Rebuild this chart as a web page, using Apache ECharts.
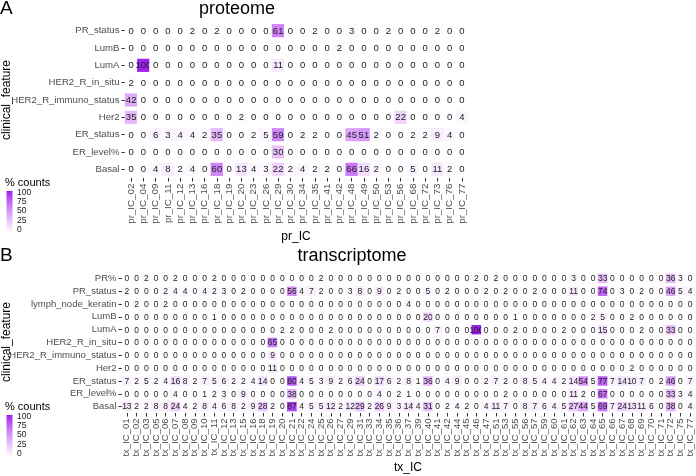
<!DOCTYPE html>
<html><head><meta charset="utf-8">
<script src="https://cdn.jsdelivr.net/npm/echarts@6/dist/echarts.min.js"></script>
<style>html,body{margin:0;padding:0;background:#fff}#c{width:696px;height:476px}</style>
</head><body><div id="c"></div>
<script>
const FONT = '"Liberation Sans", Arial, sans-serif';

// ---------- A: proteome ----------
const prIC = ['pr_IC_02','pr_IC_04','pr_IC_09','pr_IC_11','pr_IC_12','pr_IC_13','pr_IC_16','pr_IC_18','pr_IC_19','pr_IC_20','pr_IC_23','pr_IC_26','pr_IC_29','pr_IC_30','pr_IC_34','pr_IC_35','pr_IC_41','pr_IC_42','pr_IC_48','pr_IC_49','pr_IC_50','pr_IC_53','pr_IC_56','pr_IC_68','pr_IC_72','pr_IC_73','pr_IC_76','pr_IC_77'];
const prFeatures = ['PR_status','LumB','LumA','HER2_R_in_situ','HER2_R_immuno_status','Her2','ER_status','ER_level%','Basal'];
const pr_PR_status    = [0,0,0,0,0,2,0,2,0,0,0,0,61,0,0,2,0,0,3,0,0,2,0,0,0,2,0,0];
const pr_LumB         = [0,0,0,0,0,0,0,0,0,0,0,0,0,0,0,0,0,2,0,0,0,0,0,0,0,0,0,0];
const pr_LumA         = [0,100,0,0,0,0,0,0,0,0,0,0,11,0,0,0,0,0,0,0,0,0,0,0,0,0,0,0];
const pr_HER2_in_situ = [2,0,0,0,0,0,0,0,0,0,0,0,0,0,0,0,0,0,0,0,0,0,0,0,0,0,0,0];
const pr_HER2_immuno  = [42,0,0,0,0,0,0,0,0,0,0,0,0,0,0,0,0,0,0,0,0,0,0,0,0,0,0,0];
const pr_Her2         = [35,0,0,0,0,0,0,0,0,2,0,0,0,0,0,0,0,0,0,0,0,0,22,0,0,0,0,4];
const pr_ER_status    = [0,0,6,3,4,4,2,35,0,0,2,5,59,0,2,2,0,0,45,51,2,0,0,2,2,9,4,0];
const pr_ER_level     = [0,0,0,0,0,0,0,0,0,0,0,0,30,0,0,0,0,0,0,0,0,0,0,0,0,0,0,0];
const pr_Basal        = [0,0,4,8,2,4,0,60,0,13,4,3,22,2,4,2,2,0,66,16,2,0,0,5,0,11,2,0];
const prRows = [pr_PR_status,pr_LumB,pr_LumA,pr_HER2_in_situ,pr_HER2_immuno,pr_Her2,pr_ER_status,pr_ER_level,pr_Basal];

// ---------- B: transcriptome ----------
const txIC = ['tx_IC_01','tx_IC_02','tx_IC_03','tx_IC_05','tx_IC_06','tx_IC_07','tx_IC_08','tx_IC_09','tx_IC_10','tx_IC_11','tx_IC_12','tx_IC_13','tx_IC_15','tx_IC_16','tx_IC_18','tx_IC_19','tx_IC_20','tx_IC_21','tx_IC_22','tx_IC_24','tx_IC_25','tx_IC_26','tx_IC_27','tx_IC_29','tx_IC_31','tx_IC_33','tx_IC_34','tx_IC_35','tx_IC_36','tx_IC_37','tx_IC_39','tx_IC_40','tx_IC_41','tx_IC_42','tx_IC_44','tx_IC_45','tx_IC_46','tx_IC_47','tx_IC_51','tx_IC_53','tx_IC_55','tx_IC_56','tx_IC_57','tx_IC_59','tx_IC_60','tx_IC_61','tx_IC_62','tx_IC_63','tx_IC_64','tx_IC_65','tx_IC_66','tx_IC_67','tx_IC_68','tx_IC_69','tx_IC_70','tx_IC_71','tx_IC_72','tx_IC_75','tx_IC_77'];
const txFeatures = ['PR%','PR_status','lymph_node_keratin','LumB','LumA','HER2_R_in_situ','HER2_R_immuno_status','Her2','ER_status','ER_level%','Basal'];
const tx_PR_pct      = [0,0,2,0,0,2,0,0,0,2, 0,0,0,0,0,0,0,0,0,0, 2,0,0,0,0,0,0,0,0,0, 0,0,0,0,0,0,2,0,2,0, 0,0,0,0,0,0,3,0,0,33, 0,0,0,0,0,0,36,3,0];
const tx_PR_status   = [2,0,0,0,2,4,4,0,4,2, 3,0,2,0,0,0,0,56,4,7, 2,0,0,3,8,0,9,0,2,0, 0,5,0,2,0,0,0,2,0,2, 0,0,2,0,0,0,11,0,0,74, 0,3,0,2,0,0,46,5,4];
const tx_lymph       = [0,2,0,0,2,0,0,0,0,0, 0,0,0,0,0,0,0,0,0,0, 0,0,0,0,0,0,0,0,0,4, 0,0,0,0,0,0,0,0,0,0, 0,0,0,0,0,0,0,0,0,0, 0,0,0,0,0,0,0,0,0];
const tx_LumB        = [0,0,0,0,0,0,0,0,0,1, 0,0,0,0,0,0,0,0,0,0, 0,0,0,0,0,0,0,0,0,0, 0,20,0,0,0,0,0,0,0,0, 1,0,0,0,0,0,0,0,2,5, 0,0,2,0,0,0,0,0,0];
const tx_LumA        = [0,0,0,0,0,0,0,0,0,0, 0,0,0,0,0,0,2,2,0,0, 0,2,0,0,0,0,0,0,0,0, 0,0,7,0,0,0,100,0,0,0, 2,0,0,0,0,2,0,0,0,15, 0,0,0,2,0,0,33,0,0];
const tx_HER2_in_situ= [0,0,0,0,0,0,0,0,0,0, 0,0,0,0,0,65,0,0,0,0, 0,0,0,0,0,0,0,0,0,0, 0,0,0,0,0,0,0,0,0,0, 0,0,0,0,0,0,0,0,0,0, 0,0,0,0,0,0,0,0,0];
const tx_HER2_immuno = [0,0,0,0,0,0,0,0,0,0, 0,0,0,0,0,9,0,0,0,0, 0,0,0,0,0,0,0,0,0,0, 0,0,0,0,0,0,0,0,0,0, 0,0,0,0,0,0,0,0,0,0, 0,0,0,0,0,0,0,0,0];
const tx_Her2        = [0,0,0,0,0,0,0,0,0,0, 0,0,0,0,0,11,0,0,0,0, 0,0,0,0,0,0,0,0,0,0, 0,0,0,0,0,0,0,0,0,0, 0,0,0,0,0,0,0,0,0,0, 0,0,2,0,0,0,0,0,0];
const tx_ER_status   = [7,2,5,2,4,16,8,2,7,5, 6,2,2,4,14,0,0,80,4,5, 3,9,2,6,24,0,17,6,2,8, 1,36,0,4,9,0,0,2,7,2, 0,8,5,4,4,2,14,54,5,77, 7,14,10,7,0,2,46,0,7];
const tx_ER_level    = [0,0,0,0,0,4,0,0,1,2, 3,0,9,0,0,0,0,38,0,0, 0,0,0,0,0,0,4,0,2,1, 0,0,0,0,0,0,0,0,0,2, 0,0,0,0,0,0,11,2,0,67, 0,0,0,0,0,0,33,3,4];
const tx_Basal       = [13,2,2,8,8,24,4,2,8,4, 6,8,2,9,28,2,0,87,4,5, 5,12,2,12,29,2,26,9,3,14, 4,31,0,2,4,2,0,4,11,7, 0,8,7,6,4,5,27,44,5,69, 7,24,13,11,6,0,38,0,4];
const txRows = [tx_PR_pct,tx_PR_status,tx_lymph,tx_LumB,tx_LumA,tx_HER2_in_situ,tx_HER2_immuno,tx_Her2,tx_ER_status,tx_ER_level,tx_Basal];

const legendTicks = ['100','75','50','25','0'];
const colorStops = ['#ffffff','#edcdfd','#d99af9','#be66f5','#a020f0'];

function cells(rows){
  const out = [];
  rows.forEach((r, yi) => r.forEach((v, xi) => out.push([xi, yi, v])));
  return out;
}

function tileRenderer(fontSize, hRatio){
  return function(params, api){
    const c = api.coord([api.value(0), api.value(1)]);
    const s = api.size([1, 1]);
    const w = s[0] + 0.3, h = s[1] * hRatio;
    return {type:'group', children:[
      {type:'rect', shape:{x:c[0]-w/2, y:c[1]-h/2, width:w, height:h}, style:{fill: api.visual('color')}},
      {type:'text', style:{text:String(api.value(2)), x:c[0], y:c[1]+0.5, align:'center', verticalAlign:'middle',
        fill:'#1a1a1a', fontSize:fontSize, fontFamily:FONT}}
    ]};
  };
}

function xAx(idx, data, fs){
  return {type:'category', gridIndex:idx, data:data, position:'bottom',
    axisLine:{show:false}, splitLine:{show:false},
    axisTick:{show:true, alignWithLabel:true, length:3.5, lineStyle:{color:'#333'}},
    axisLabel:{rotate:90, margin:5.5, fontSize:fs, color:'#4d4d4d', fontFamily:FONT, interval:0}};
}
function yAx(idx, data, fs){
  return {type:'category', gridIndex:idx, data:data, inverse:true,
    axisLine:{show:false}, splitLine:{show:false},
    axisTick:{show:true, alignWithLabel:true, length:3.5, lineStyle:{color:'#333'}},
    axisLabel:{margin:5.5, fontSize:fs, color:'#4d4d4d', fontFamily:FONT, interval:0}};
}

function legend(top){
  const g = [];
  g.push({type:'text', x:5, y:top, style:{text:'% counts', fontSize:11, fontFamily:FONT, fill:'#000', verticalAlign:'middle'}});
  g.push({type:'rect', shape:{x:6.5, y:top+8, width:6, height:42},
    style:{fill:{type:'linear', x:0, y:0, x2:0, y2:1, colorStops:colorStops.slice().reverse().map((c,i,a)=>({offset:i/(a.length-1), color:c}))}}});
  legendTicks.forEach((t, i) => {
    g.push({type:'text', x:17, y:top+9.5+i*9.3, style:{text:t, fontSize:8.5, fontFamily:FONT, fill:'#1a1a1a', verticalAlign:'middle'}});
  });
  return g;
}

const graphics = [
  {type:'text', x:0, y:9, style:{text:'A', fontSize:19, fontFamily:FONT, fill:'#000', verticalAlign:'middle'}},
  {type:'text', x:237, y:9.5, style:{text:'proteome', fontSize:18, fontFamily:FONT, fill:'#000', align:'center', verticalAlign:'middle'}},
  {type:'text', x:6.5, y:100, rotation:Math.PI/2, style:{text:'clinical_feature', fontSize:12, fontFamily:FONT, fill:'#000', align:'center', verticalAlign:'middle'}},
  {type:'text', x:296, y:237, style:{text:'pr_IC', fontSize:12, fontFamily:FONT, fill:'#000', align:'center', verticalAlign:'middle'}},
  {type:'text', x:0, y:256, style:{text:'B', fontSize:19, fontFamily:FONT, fill:'#000', verticalAlign:'middle'}},
  {type:'text', x:352, y:256.5, style:{text:'transcriptome', fontSize:18, fontFamily:FONT, fill:'#000', align:'center', verticalAlign:'middle'}},
  {type:'text', x:6.5, y:342, rotation:Math.PI/2, style:{text:'clinical_feature', fontSize:12, fontFamily:FONT, fill:'#000', align:'center', verticalAlign:'middle'}},
  {type:'text', x:408, y:468, style:{text:'tx_IC', fontSize:12, fontFamily:FONT, fill:'#000', align:'center', verticalAlign:'middle'}}
].concat(legend(183)).concat(legend(407));

const chart = echarts.init(document.getElementById('c'), null, {renderer:'canvas'});
chart.setOption({
  backgroundColor:'#ffffff',
  animation:false,
  grid:[
    {left:125, top:22, width:343, height:156},
    {left:122, top:272, width:573, height:141}
  ],
  xAxis:[xAx(0, prIC, 9.8), xAx(1, txIC, 9.5)],
  yAxis:[yAx(0, prFeatures, 9.6), yAx(1, txFeatures, 9.5)],
  visualMap:{type:'continuous', show:false, min:0, max:100, dimension:2, seriesIndex:[0,1], inRange:{color:colorStops}},
  series:[
    {type:'custom', xAxisIndex:0, yAxisIndex:0, data:cells(prRows), renderItem:tileRenderer(9.5, 0.76)},
    {type:'custom', xAxisIndex:1, yAxisIndex:1, data:cells(txRows), renderItem:tileRenderer(8.5, 0.74)}
  ],
  graphic:graphics
});
</script></body></html>
